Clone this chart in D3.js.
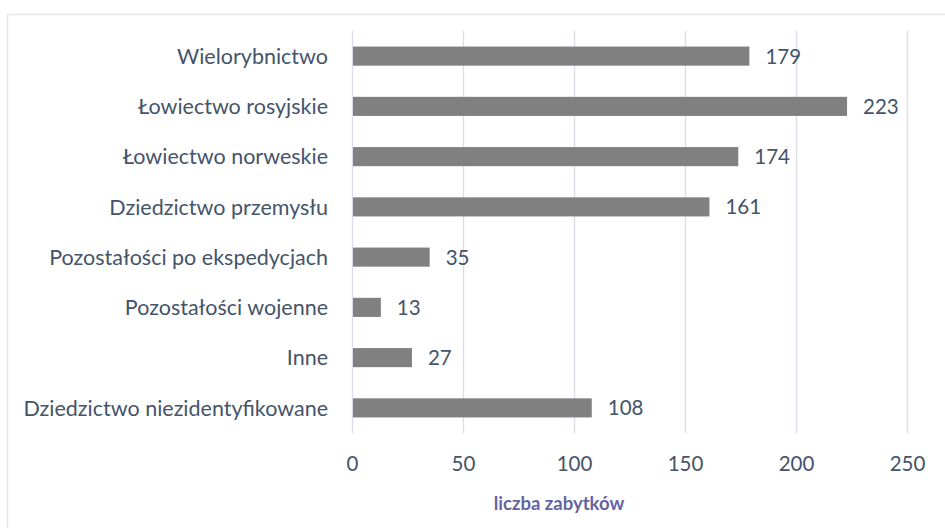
<!DOCTYPE html>
<html>
<head>
<meta charset="utf-8">
<script src="https://cdn.jsdelivr.net/npm/d3@7"></script>
<style>
  body { margin: 0; background: #fff; }
  svg text { font-family: Lato, "Open Sans", sans-serif; }
</style>
</head>
<body>
<svg id="chart" width="945" height="528"></svg>
<script>
// chart data
var categories = [
  "Wielorybnictwo",
  "Łowiectwo rosyjskie",
  "Łowiectwo norweskie",
  "Dziedzictwo przemysłu",
  "Pozostałości po ekspedycjach",
  "Pozostałości wojenne",
  "Inne",
  "Dziedzictwo niezidentyfikowane"
];
var values = [179, 223, 174, 161, 35, 13, 27, 108];
var ticks = [0, 50, 100, 150, 200, 250];
var axisTitle = "liczba zabytków";

var textColor = "#44546a";
var gridColor = "#d9dde4";

var chart = d3.select("#chart");

// outer frame
chart.append("rect")
  .attr("x", 7.5).attr("y", 14.5)
  .attr("width", 945).attr("height", 530)
  .attr("fill", "none")
  .attr("stroke", "#e3e6ea")
  .attr("stroke-width", 1.5);

var x = d3.scaleLinear().domain([0, 250]).range([352, 907]);
var y = d3.scaleBand().domain(categories).range([31, 433]).paddingInner(0.62).paddingOuter(0.31);

// gridlines
chart.append("g").selectAll("line")
  .data(ticks)
  .enter().append("line")
  .attr("x1", function(d) { return Math.round(x(d)) + 0.5; })
  .attr("x2", function(d) { return Math.round(x(d)) + 0.5; })
  .attr("y1", 31).attr("y2", 433)
  .attr("stroke", gridColor)
  .attr("stroke-width", 1.3);

// bars
chart.append("g").selectAll("rect")
  .data(values)
  .enter().append("rect")
  .attr("x", x(0) + 1)
  .attr("y", function(d, i) { return y(categories[i]); })
  .attr("width", function(d) { return x(d) - x(0) - 1; })
  .attr("height", y.bandwidth())
  .attr("fill", "#808080");

// value labels
chart.append("g").selectAll("text")
  .data(values)
  .enter().append("text")
  .attr("x", function(d) { return x(d) + 16; })
  .attr("y", function(d, i) { return y(categories[i]) + y.bandwidth() / 2; })
  .attr("dy", "0.36em")
  .attr("font-size", 20.5)
  .attr("fill", textColor)
  .text(function(d) { return d; });

// category labels
chart.append("g").selectAll("text")
  .data(categories)
  .enter().append("text")
  .attr("x", 328)
  .attr("y", function(d) { return y(d) + y.bandwidth() / 2; })
  .attr("dy", "0.36em")
  .attr("text-anchor", "end")
  .attr("font-size", 21.5)
  .attr("fill", textColor)
  .text(function(d) { return d; });

// x axis tick labels
var xAxis = d3.axisBottom(x).tickValues(ticks).tickSize(0).tickPadding(23);
var gx = chart.append("g")
  .attr("transform", "translate(0,433)")
  .call(xAxis);
gx.select(".domain").remove();
gx.selectAll("text")
  .attr("font-size", 20.5)
  .attr("fill", textColor)
  .style("font-family", "Lato, 'Open Sans', sans-serif");

// axis title
chart.append("text")
  .attr("x", 559)
  .attr("y", 503)
  .attr("dy", "0.36em")
  .attr("text-anchor", "middle")
  .attr("font-size", 18.5)
  .attr("font-weight", "bold")
  .attr("fill", "#6464a0")
  .text(axisTitle);
</script>
</body>
</html>
